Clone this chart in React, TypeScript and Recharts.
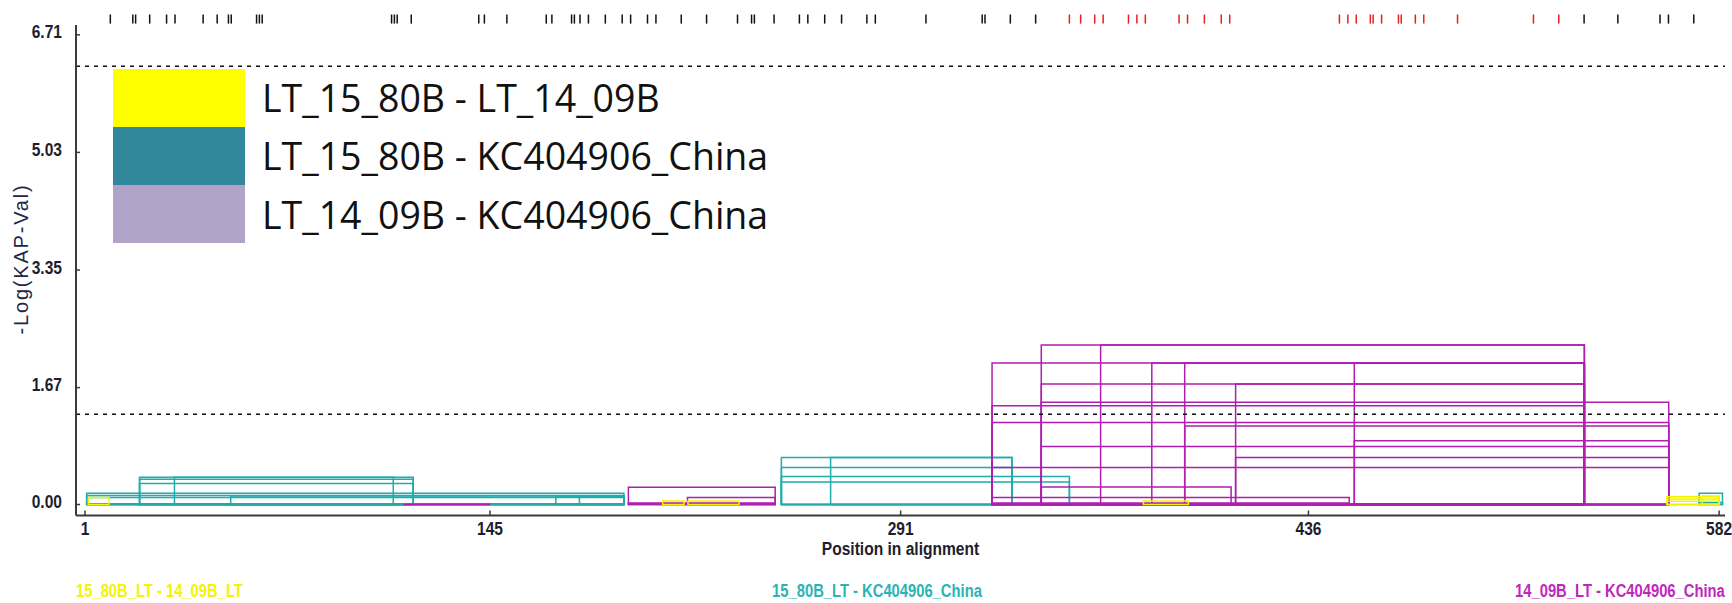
import React from 'react';
import { ComposedChart, XAxis, YAxis, ReferenceArea, ReferenceLine } from 'recharts';

// axis ticks
const xTicks = [1, 145, 291, 436, 582];
const yTicks = [0, 1.67, 3.35, 5.03, 6.71];

// significance cut-offs (dashed lines)
const thresholds = [6.26, 1.29];

// polymorphic sites shown above the plot
const blackSites = [
  10, 18, 19, 24, 30, 33, 43, 48, 52, 53, 62, 63, 64, 110, 111, 112, 117, 141, 143, 151,
  165, 167, 174, 175, 177, 180, 186, 192, 195, 201, 204, 213, 222, 233, 238, 239, 246,
  255, 258, 264, 270, 279, 282, 300, 320, 321, 330, 339, 534, 546, 561, 564, 573,
];
const redSites = [
  351, 355, 360, 363, 372, 375, 378, 390, 393, 399, 405, 408, 447, 450, 453, 458, 459,
  462, 468, 469, 474, 477, 489, 516, 525,
];

// fragments: [start, end, -log(KA p-value)]
const yellowFragments = [
  [2.2, 9.5, 0.1],
  [206.4, 214, 0.05],
  [215.4, 233.5, 0.05],
  [377.3, 393.3, 0.05],
  [563.4, 582, 0.11],
  [563.4, 582, 0.08],
  [563.4, 582, 0.045],
  [576, 582, 0.12],
];
const tealFragments = [
  [1.6, 192.6, 0.16],
  [1.6, 192.6, 0.13],
  [1.6, 192.6, 0.1],
  [1.6, 192.6, 0.01],
  [52.8, 192.6, 0.12],
  [168.4, 192.6, 0.11],
  [176.8, 192.6, 0.11],
  [20.4, 117.7, 0.39],
  [32.8, 110.6, 0.39],
  [20.4, 117.7, 0.36],
  [20.4, 117.7, 0.3],
  [248.6, 330.6, 0.67],
  [266.1, 330.6, 0.67],
  [248.6, 330.6, 0.53],
  [248.6, 351, 0.4],
  [248.6, 351, 0.32],
  [574.9, 583.2, 0.16],
  [574.9, 583.2, 0.03],
];
const magentaFragments = [
  [114.5, 144.8, 0.005],
  [194.2, 246.4, 0.245],
  [215.2, 246.4, 0.1],
  [194.2, 246.4, 0.02],
  [323.5, 534.1, 2.02],
  [341, 534.1, 2.28],
  [362.1, 534.1, 2.28],
  [380.3, 534.1, 2.02],
  [392, 534.1, 2.02],
  [452.3, 534.1, 2.02],
  [341, 534.1, 1.72],
  [410.1, 534.1, 1.72],
  [341, 564.1, 1.46],
  [323.5, 534.1, 1.41],
  [323.5, 564.1, 1.17],
  [392, 564.1, 1.12],
  [452.3, 564.1, 0.91],
  [341, 564.1, 0.83],
  [410.1, 564.1, 0.67],
  [323.5, 564.1, 0.53],
  [341, 408.5, 0.25],
  [323.5, 450.5, 0.1],
  [323.5, 450.5, 0.02],
];

const pairNames = ['LT_15_80B - LT_14_09B', 'LT_15_80B - KC404906_China', 'LT_14_09B - KC404906_China'];
const swatchColors = ['#ffff00', '#31879b', '#b1a2c8'];

const seqLabels = ['15_80B_LT - 14_09B_LT', '15_80B_LT - KC404906_China', '14_09B_LT - KC404906_China'];

const YELLOW = '#f4f400';
const TEAL = '#1eacac';
const MAGENTA = '#b01eb0';
const AXIS = '#3a3a3a';
const INK = '#1e1e2e';
const sans = "'Liberation Sans', Arial, sans-serif";
const NARROW = 0.82; // no Arial Narrow here, squeeze Liberation Sans instead

const NarrowText = ({ x, y, anchor, size = 19, children }: any) => (
  <text
    transform={`translate(${x},${y}) scale(${NARROW},1)`}
    textAnchor={anchor}
    fontFamily={sans}
    fontWeight="bold"
    fontSize={size}
    fill={INK}
  >
    {children}
  </text>
);

const YTick = (props: any) => {
  const { x, y, payload } = props;
  return (
    <g>
      <line x1={x} x2={x + 4} y1={y} y2={y} stroke={AXIS} strokeWidth={1.5} />
      <NarrowText x={x - 14} y={y + 3.5} anchor="end">
        {payload.value.toFixed(2)}
      </NarrowText>
    </g>
  );
};

const XTick = (props: any) => {
  const { x, y, payload } = props;
  return (
    <g>
      <line x1={x} x2={x} y1={y} y2={y - 5} stroke={AXIS} strokeWidth={1.5} />
      <NarrowText x={x} y={y + 19} anchor="middle">
        {payload.value}
      </NarrowText>
    </g>
  );
};

const frags = (list: number[][], color: string, key: string) =>
  list.map(([s, e, v], i) => (
    <ReferenceArea
      key={key + i}
      x1={s}
      x2={e}
      y1={0}
      y2={v}
      fill="none"
      fillOpacity={0}
      stroke={color}
      strokeWidth={1.5}
      ifOverflow="visible"
    />
  ));

const sites = (list: number[], color: string, key: string) =>
  list.map((p, i) => (
    <ReferenceLine
      key={key + i}
      segment={[{ x: p, y: 6.87 }, { x: p, y: 7.0 }]}
      stroke={color}
      strokeWidth={1.5}
      ifOverflow="visible"
    />
  ));

const bottomLabel = {
  position: 'absolute' as const,
  top: 581,
  fontFamily: sans,
  fontWeight: 'bold' as const,
  fontSize: 18,
  lineHeight: '20px',
  whiteSpace: 'nowrap' as const,
};

export default function App() {
  return (
    <div style={{ position: 'absolute', left: 0, top: 0, width: 1732, height: 603, background: '#fff', overflow: 'hidden' }}>
      <ComposedChart width={1732} height={603} data={[]} margin={{ top: 25, right: 7, bottom: 57.5, left: 0 }}>
        <XAxis
          type="number"
          dataKey="x"
          domain={[-2.2, 584.1]}
          ticks={xTicks}
          interval={0}
          allowDataOverflow
          height={30}
          tickSize={0}
          tickMargin={0}
          tickLine={false}
          axisLine={{ stroke: AXIS, strokeWidth: 2 }}
          tick={<XTick />}
          label={() => (
            <NarrowText x={900.5} y={555} anchor="middle" size={19}>
              Position in alignment
            </NarrowText>
          )}
        />
        <YAxis
          type="number"
          dataKey="y"
          domain={[-0.157, 6.85]}
          ticks={yTicks}
          interval={0}
          allowDataOverflow
          width={76}
          tickSize={0}
          tickMargin={0}
          tickLine={false}
          axisLine={{ stroke: AXIS, strokeWidth: 2 }}
          tick={<YTick />}
          label={() => (
            <text
              x={21}
              y={259}
              transform="rotate(-90 21 259)"
              textAnchor="middle"
              dominantBaseline="central"
              fontFamily={sans}
              fontSize={20}
              style={{ letterSpacing: '1.8px' }}
              fill="#24244a"
            >
              -Log(KAP-Val)
            </text>
          )}
        />
        {thresholds.map((t) => (
          <ReferenceLine key={'t' + t} y={t} stroke="#111" strokeWidth={1.5} strokeDasharray="4 5" />
        ))}
        {frags(tealFragments, TEAL, 'tf')}
        {frags(magentaFragments, MAGENTA, 'mf')}
        {frags(yellowFragments, YELLOW, 'yf')}
        {sites(blackSites, '#111', 'bs')}
        {sites(redSites, '#ee1c1c', 'rs')}
      </ComposedChart>

      <div style={{ position: 'absolute', left: 113, top: 68.5 }}>
        {pairNames.map((n, i) => (
          <div key={n} style={{ display: 'flex', alignItems: 'center', height: 58.3 }}>
            <div style={{ width: 132, height: 58.3, background: swatchColors[i] }} />
            <span style={{ marginLeft: 17, fontFamily: "'Open Sans', sans-serif", fontSize: 37.5, color: '#111', whiteSpace: 'nowrap' }}>
              {n}
            </span>
          </div>
        ))}
      </div>

      <div style={{ ...bottomLabel, left: 76, color: YELLOW, transform: `scaleX(${NARROW})`, transformOrigin: 'left center' }}>
        {seqLabels[0]}
      </div>
      <div style={{ ...bottomLabel, left: 877, color: '#2ab4b4', transform: `translateX(-50%) scaleX(${NARROW})`, transformOrigin: 'center center' }}>
        {seqLabels[1]}
      </div>
      <div style={{ ...bottomLabel, right: 7, color: '#be28be', transform: `scaleX(${NARROW})`, transformOrigin: 'right center' }}>
        {seqLabels[2]}
      </div>
    </div>
  );
}
